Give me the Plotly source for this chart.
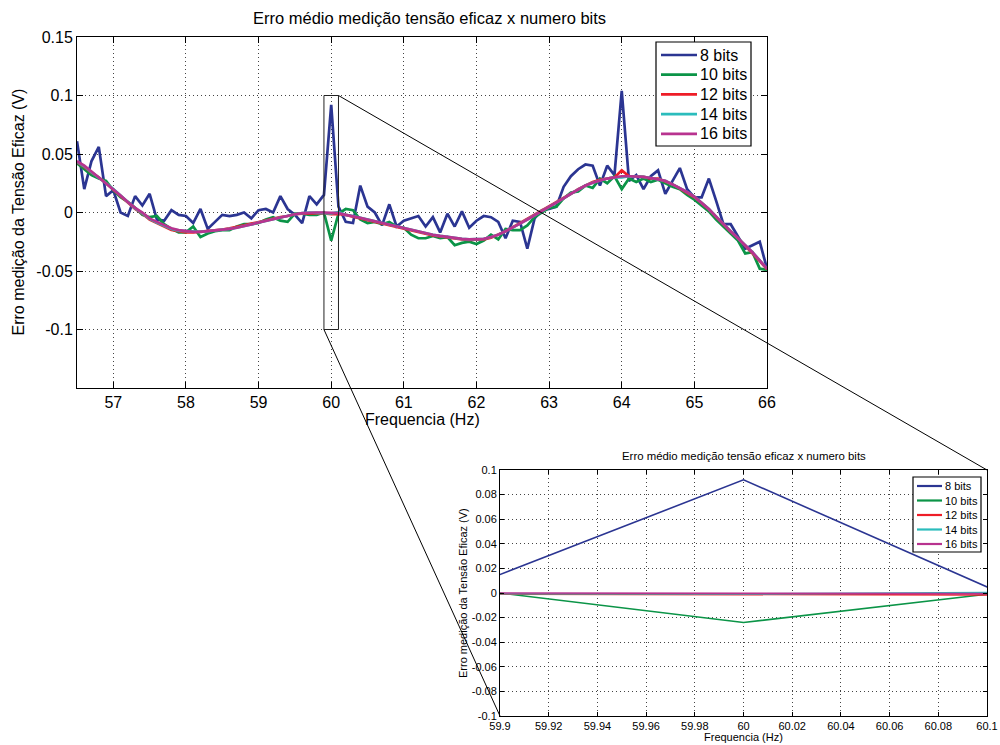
import numpy as np
import plotly.graph_objects as go

# ---------------- data ----------------
freq = np.round(np.arange(56.5, 66.05, 0.1), 1)  # Hz, sampling grid 56.5 .. 66.0

bits8 = [
    0.061, 0.020, 0.044, 0.056, 0.014, 0.019, 0.000, -0.003, 0.014, 0.006,
    0.016, -0.006, -0.007, 0.002, -0.002, -0.003, -0.009, 0.003, -0.014, -0.008,
    -0.002, -0.003, -0.002, 0.000, -0.005, 0.002, 0.003, 0.000, 0.014, 0.003,
    -0.002, -0.009, 0.014, 0.007, 0.015, 0.092, 0.005, -0.008, -0.009, 0.023,
    0.005, 0.000, -0.011, 0.007, -0.012, -0.007, -0.005, -0.003, -0.012, -0.004,
    -0.017, -0.001, -0.012, 0.001, -0.013, -0.007, -0.003, -0.004, -0.008, -0.022,
    -0.007, -0.008, -0.031, -0.005, 0.002, 0.003, 0.005, 0.022, 0.031, 0.037,
    0.041, 0.040, 0.023, 0.040, 0.032, 0.104, 0.027, 0.032, 0.020, 0.031,
    0.036, 0.016, 0.027, 0.038, 0.020, 0.013, 0.013, 0.029, 0.010, -0.010,
    -0.010, -0.020, -0.031, -0.028, -0.025, -0.048,
]

bits10 = [
    0.042, 0.037, 0.032, 0.029, 0.027, 0.019, 0.013, 0.009, 0.004, -0.002,
    -0.004, -0.003, -0.010, -0.014, -0.017, -0.017, -0.012, -0.021, -0.018, -0.016,
    -0.015, -0.015, -0.012, -0.010, -0.010, -0.009, -0.006, -0.004, -0.007, -0.008,
    -0.001, -0.001, -0.002, -0.002, 0.000, -0.024, -0.001, 0.003, 0.002, -0.006,
    -0.009, -0.008, -0.010, -0.008, -0.012, -0.013, -0.019, -0.022, -0.022, -0.020,
    -0.022, -0.021, -0.028, -0.026, -0.025, -0.027, -0.024, -0.019, -0.023, -0.014,
    -0.015, -0.015, -0.011, -0.004, 0.000, 0.004, 0.005, 0.012, 0.017, 0.018,
    0.023, 0.021, 0.029, 0.025, 0.031, 0.020, 0.029, 0.026, 0.029, 0.026,
    0.028, 0.025, 0.022, 0.020, 0.015, 0.011, 0.006, 0.001, -0.006, -0.012,
    -0.018, -0.024, -0.035, -0.034, -0.048, -0.049,
]

bits12 = [
    0.043, 0.039, 0.034, 0.030, 0.025, 0.0195, 0.014, 0.0085, 0.003, -0.001,
    -0.006, -0.009, -0.012, -0.015, -0.016, -0.017, -0.017, -0.0165, -0.016, -0.0155,
    -0.0145, -0.0135, -0.0125, -0.011, -0.0095, -0.008, -0.007, -0.0055, -0.004, -0.003,
    -0.0015, -0.001, -0.0005, -0.0005, -0.0008, -0.0015, -0.0012, -0.002, -0.0035, -0.005,
    -0.0065, -0.008, -0.009, -0.011, -0.012, -0.0135, -0.015, -0.0165, -0.018, -0.0195,
    -0.0205, -0.0215, -0.022, -0.023, -0.0235, -0.0235, -0.023, -0.0215, -0.019, -0.016,
    -0.0125, -0.009, -0.0055, -0.002, 0.0015, 0.005, 0.0085, 0.012, 0.016, 0.020,
    0.023, 0.026, 0.028, 0.029, 0.030, 0.036, 0.031, 0.031, 0.0305, 0.029,
    0.029, 0.0265, 0.024, 0.0205, 0.017, 0.013, 0.008, 0.0025, -0.004, -0.0105,
    -0.0165, -0.022, -0.0285, -0.0345, -0.0415, -0.0485,
]

bits14 = [
    0.0435, 0.0395, 0.0345, 0.030, 0.025, 0.020, 0.0145, 0.009, 0.0035, -0.0005,
    -0.0055, -0.0085, -0.0115, -0.014, -0.0155, -0.016, -0.0165, -0.0165, -0.016, -0.0155,
    -0.015, -0.014, -0.013, -0.0115, -0.010, -0.0085, -0.007, -0.0055, -0.004, -0.0025,
    -0.0015, -0.0005, 0.000, -0.0003, -0.0005, -0.0008, 0.0003, -0.002, -0.003, -0.0045,
    -0.006, -0.0075, -0.009, -0.0105, -0.012, -0.0135, -0.015, -0.0165, -0.018, -0.019,
    -0.020, -0.021, -0.022, -0.0225, -0.023, -0.023, -0.0225, -0.021, -0.019, -0.016,
    -0.013, -0.0095, -0.006, -0.0025, 0.001, 0.0045, 0.008, 0.012, 0.016, 0.0195,
    0.023, 0.0255, 0.0275, 0.029, 0.030, 0.030, 0.031, 0.031, 0.0305, 0.0295,
    0.0285, 0.027, 0.024, 0.021, 0.0175, 0.0135, 0.008, 0.003, -0.0035, -0.010,
    -0.016, -0.022, -0.028, -0.034, -0.041, -0.048,
]

bits16 = [
    0.044, 0.040, 0.035, 0.030, 0.025, 0.020, 0.0145, 0.009, 0.004, 0.000,
    -0.005, -0.008, -0.011, -0.0135, -0.015, -0.016, -0.0165, -0.0165, -0.016, -0.0155,
    -0.015, -0.014, -0.013, -0.0115, -0.010, -0.0085, -0.007, -0.0055, -0.004, -0.0025,
    -0.0015, -0.0005, 0.000, 0.000, 0.000, -0.0002, -0.0005, -0.002, -0.003, -0.0045,
    -0.006, -0.0075, -0.009, -0.0105, -0.012, -0.0135, -0.015, -0.0165, -0.018, -0.019,
    -0.020, -0.021, -0.022, -0.0225, -0.023, -0.023, -0.0225, -0.021, -0.019, -0.016,
    -0.013, -0.0095, -0.006, -0.0025, 0.001, 0.0045, 0.008, 0.012, 0.016, 0.0195,
    0.023, 0.0255, 0.0275, 0.029, 0.030, 0.031, 0.031, 0.031, 0.0305, 0.0295,
    0.0285, 0.027, 0.024, 0.021, 0.0175, 0.0135, 0.008, 0.003, -0.0035, -0.010,
    -0.016, -0.022, -0.028, -0.034, -0.041, -0.048,
]

series_names = ["8 bits", "10 bits", "12 bits", "14 bits", "16 bits"]
series_values = [bits8, bits10, bits12, bits14, bits16]
series_colors = ["#2b3592", "#0b9447", "#ee1d27", "#2bbcbc", "#b8338f"]

# tick labels
main_xticks = [57, 58, 59, 60, 61, 62, 63, 64, 65, 66]
main_yticks = [-0.1, -0.05, 0, 0.05, 0.1, 0.15]
main_yticklabels = ["-0.1", "-0.05", "0", "0.05", "0.1", "0.15"]
zoom_xticks = [59.9, 59.92, 59.94, 59.96, 59.98, 60.0, 60.02, 60.04, 60.06, 60.08, 60.1]
zoom_xticklabels = ["59.9", "59.92", "59.94", "59.96", "59.98", "60", "60.02", "60.04",
                    "60.06", "60.08", "60.1"]
zoom_yticks = [-0.1, -0.08, -0.06, -0.04, -0.02, 0, 0.02, 0.04, 0.06, 0.08, 0.1]
zoom_yticklabels = ["-0.1", "-0.08", "-0.06", "-0.04", "-0.02", "0", "0.02", "0.04",
                    "0.06", "0.08", "0.1"]

title_text = "Erro médio medição tensão eficaz x numero bits"
xlabel_text = "Frequencia (Hz)"
ylabel_text = "Erro medição da Tensão Eficaz (V)"

# ranges
main_xrange = [56.5, 66]
main_yrange = [-0.15, 0.15]
zoom_xrange = [59.9, 60.1]
zoom_yrange = [-0.1, 0.1]

# ---------------- layout geometry ----------------
W, H = 1000, 745
main_xdom = [77 / W, 767 / W]
main_ydom = [1 - 388 / H, 1 - 37 / H]
zoom_xdom = [500 / W, 987 / W]
zoom_ydom = [1 - 716 / H, 1 - 470 / H]

FONT = "Liberation Sans, Arial, Helvetica, sans-serif"
GRID_DASH = "1px,3px"


def to_paper(x, y, xr, yr, xd, yd):
    px = xd[0] + (x - xr[0]) / (xr[1] - xr[0]) * (xd[1] - xd[0])
    py = yd[0] + (y - yr[0]) / (yr[1] - yr[0]) * (yd[1] - yd[0])
    return px, py


fig = go.Figure()

for name, vals, col in zip(series_names, series_values, series_colors):
    fig.add_trace(go.Scatter(x=freq, y=vals, mode="lines", name=name,
                             line=dict(color=col, width=2.7),
                             xaxis="x", yaxis="y", showlegend=False))
for name, vals, col in zip(series_names, series_values, series_colors):
    fig.add_trace(go.Scatter(x=freq, y=vals, mode="lines", name=name,
                             line=dict(color=col, width=1.6),
                             xaxis="x2", yaxis="y2", showlegend=False))


def axis_style(**kw):
    d = dict(showline=True, linecolor="black", linewidth=1, mirror="ticks",
             ticks="inside", tickcolor="black", showgrid=True,
             gridcolor="#444444", gridwidth=1, griddash=GRID_DASH,
             zeroline=False, automargin=False)
    d.update(kw)
    return d


fig.update_layout(
    template="none",
    width=W, height=H,
    margin=dict(l=0, r=0, t=0, b=0, pad=0, autoexpand=False),
    paper_bgcolor="white", plot_bgcolor="white",
    font=dict(family=FONT, color="black"),
    showlegend=False,
    xaxis=axis_style(domain=main_xdom, range=main_xrange, anchor="y",
                     tickvals=main_xticks, ticklen=6,
                     tickfont=dict(size=16, color="black")),
    yaxis=axis_style(domain=main_ydom, range=main_yrange, anchor="x",
                     tickvals=main_yticks, ticktext=main_yticklabels, ticklen=6,
                     tickfont=dict(size=16, color="black")),
    xaxis2=axis_style(domain=zoom_xdom, range=zoom_xrange, anchor="y2",
                      tickvals=zoom_xticks, ticktext=zoom_xticklabels, ticklen=4,
                      tickfont=dict(size=11, color="black")),
    yaxis2=axis_style(domain=zoom_ydom, range=zoom_yrange, anchor="x2",
                      tickvals=zoom_yticks, ticktext=zoom_yticklabels, ticklen=4,
                      tickfont=dict(size=11, color="black")),
)

# titles and axis labels
main_cx = (main_xdom[0] + main_xdom[1]) / 2
main_cy = (main_ydom[0] + main_ydom[1]) / 2
zoom_cx = (zoom_xdom[0] + zoom_xdom[1]) / 2
zoom_cy = (zoom_ydom[0] + zoom_ydom[1]) / 2
annotations = [
    dict(text=title_text, x=429 / W, y=1 - 18 / H, font=dict(size=16.5)),
    dict(text=xlabel_text, x=main_cx, y=1 - 419 / H, font=dict(size=16)),
    dict(text=ylabel_text, x=18 / W, y=main_cy, textangle=-90, font=dict(size=16)),
    dict(text=title_text, x=zoom_cx, y=1 - 456 / H, font=dict(size=11.4)),
    dict(text=xlabel_text, x=zoom_cx, y=1 - 737 / H, font=dict(size=11)),
    dict(text=ylabel_text, x=463 / W, y=zoom_cy, textangle=-90, font=dict(size=11)),
]
for a in annotations:
    fig.add_annotation(xref="paper", yref="paper", showarrow=False,
                       xanchor="center", yanchor="middle", **a)

# zoom rectangle on main axes
fig.add_shape(type="rect", xref="x", yref="y",
              x0=zoom_xrange[0], x1=zoom_xrange[1], y0=zoom_yrange[0], y1=zoom_yrange[1],
              line=dict(color="#222222", width=1), layer="above")

# connector lines (rectangle corners -> inset corners)
corners = [(zoom_xrange[1], zoom_yrange[1]), (zoom_xrange[0], zoom_yrange[0])]
for cx, cy in corners:
    p0 = to_paper(cx, cy, main_xrange, main_yrange, main_xdom, main_ydom)
    p1 = to_paper(cx, cy, zoom_xrange, zoom_yrange, zoom_xdom, zoom_ydom)
    fig.add_shape(type="line", xref="paper", yref="paper",
                  x0=p0[0], y0=p0[1], x1=p1[0], y1=p1[1],
                  line=dict(color="black", width=1), layer="above")


# MATLAB-style boxed legends (one per axes)
def add_legend(box_px, first_y_px, step_px, line_px, text_x_px, font_size, lw):
    x0, x1, y0, y1 = box_px
    fig.add_shape(type="rect", xref="paper", yref="paper",
                  x0=x0 / W, x1=x1 / W, y0=1 - y1 / H, y1=1 - y0 / H,
                  fillcolor="white", line=dict(color="black", width=1.2), layer="above")
    for i, (name, col) in enumerate(zip(series_names, series_colors)):
        yy = 1 - (first_y_px + i * step_px) / H
        fig.add_shape(type="line", xref="paper", yref="paper",
                      x0=line_px[0] / W, x1=line_px[1] / W, y0=yy, y1=yy,
                      line=dict(color=col, width=lw), layer="above")
        fig.add_annotation(xref="paper", yref="paper", showarrow=False,
                           x=text_x_px / W, y=yy, xanchor="left", yanchor="middle",
                           text=name, font=dict(size=font_size, color="black"))


add_legend((656, 751, 42, 146), 55, 19.7, (661, 697), 698, 16, 2.7)
add_legend((913, 981, 477, 552), 486, 14.5, (917, 942), 943, 11, 2.2)

fig.write_html("out.html")
